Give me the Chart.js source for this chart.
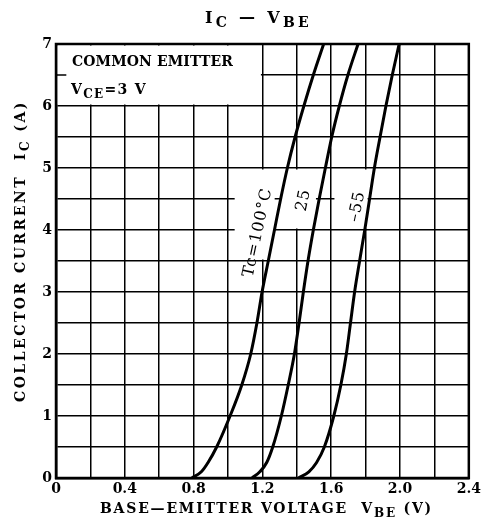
<!DOCTYPE html>
<html>
<head>
<meta charset="utf-8">
<script src="https://cdn.jsdelivr.net/npm/chart.js@4.4.1/dist/chart.umd.min.js"></script>
<style>
  html, body { margin: 0; padding: 0; background: #fff; }
  #chart { display: block; }
</style>
</head>
<body>
<canvas id="chart" width="484" height="527"></canvas>
<script>
// collector current (A), shared by the three curves
const currents = [0, 0.1, 0.25, 0.5, 1.0, 1.5, 2.0, 2.5, 3.0, 3.5, 4.0, 4.5, 5.0, 5.5, 6.0, 6.5, 7.0];
// base-emitter voltage (V) at each current, per case temperature
const vbe100 = [0.79, 0.845, 0.884, 0.934, 1.012, 1.08, 1.132, 1.168, 1.198, 1.234, 1.27, 1.306, 1.345, 1.39, 1.441, 1.496, 1.556];
const vbe25 = [1.14, 1.185, 1.225, 1.26, 1.31, 1.35, 1.386, 1.413, 1.438, 1.465, 1.496, 1.53, 1.566, 1.603, 1.647, 1.697, 1.756];
const vbeMinus55 = [1.41, 1.47, 1.515, 1.56, 1.615, 1.656, 1.688, 1.712, 1.736, 1.765, 1.795, 1.823, 1.851, 1.884, 1.918, 1.955, 1.995];

const curveLabels = ['Tc=100°C', '25', '–55'];
const xTickLabels = ['0', '0.4', '0.8', '1.2', '1.6', '2.0', '2.4'];
const yTickLabels = ['0', '1', '2', '3', '4', '5', '6', '7'];

const FONT = '"DejaVu Serif", "Liberation Serif", serif';

function toPoints(vs) {
    return vs.map((v, i) => ({ x: v, y: currents[i] }));
}

// text runs with subscripts, letter-spaced so the whole run is `width` px wide
function drawFit(ctx, parts, x, y, size, width, align, weight = 'bold') {
    const subSize = Math.round(size * 0.85);
    const fontFor = sub => `${weight} ${sub ? subSize : size}px ${FONT}`;
    ctx.letterSpacing = '0px';
    let raw = 0, chars = 0;
    for (const [t, sub] of parts) {
        ctx.font = fontFor(sub);
        raw += ctx.measureText(t).width;
        chars += [...t].length;
    }
    const sp = Math.max(0, (width - raw) / chars);
    ctx.letterSpacing = sp + 'px';
    let cx = align === 'left' ? x : x - width / 2;
    for (const [t, sub] of parts) {
        ctx.font = fontFor(sub);
        ctx.fillText(t, cx, sub ? y + 4 : y);
        cx += ctx.measureText(t).width;
    }
    ctx.letterSpacing = '0px';
}

const decorations = {
    id: 'decorations',
    beforeDatasetsDraw(chart) {
        const { ctx, scales: { x, y } } = chart;
        const blank = (x0, x1, y0, y1) => {
            const l = x.getPixelForValue(x0) + 1.5;
            const r = x.getPixelForValue(x1) - 1.5;
            const t = y.getPixelForValue(y1) + 1.5;
            const b = y.getPixelForValue(y0) - 1.5;
            ctx.fillRect(l, t, r - l, b - t);
        };
        ctx.save();
        ctx.fillStyle = '#fff';
        blank(0, 1.2, 6, 7);
        blank(1.03, 1.28, 3.5, 5);
        blank(1.3, 1.52, 4, 5);
        blank(1.61, 1.82, 4, 5);
        // small tick inside the legend box
        ctx.strokeStyle = '#000';
        ctx.lineWidth = 1.5;
        ctx.beginPath();
        ctx.moveTo(x.getPixelForValue(0), y.getPixelForValue(6.5));
        ctx.lineTo(x.getPixelForValue(0.06), y.getPixelForValue(6.5));
        ctx.stroke();
        ctx.restore();
    },
    afterDatasetsDraw(chart) {
        const { ctx, chartArea: a, scales: { x, y } } = chart;
        ctx.save();
        ctx.strokeStyle = '#000';
        ctx.lineWidth = 2.5;
        ctx.strokeRect(a.left, a.top, a.right - a.left, a.bottom - a.top);

        ctx.fillStyle = '#000';
        ctx.textBaseline = 'alphabetic';
        ctx.textAlign = 'left';
        drawFit(ctx, [['COMMON EMITTER', false]], 72, 66, 14, 161, 'left');
        drawFit(ctx, [['V', false], ['CE', true], ['=3 V', false]], 71, 94, 14, 76, 'left');

        // curve labels, turned along the curves
        const spots = [[1.174, 3.96], [1.44, 4.48], [1.752, 4.38]];
        ctx.font = `16px ${FONT}`;
        ctx.letterSpacing = '1px';
        ctx.textAlign = 'center';
        ctx.textBaseline = 'middle';
        curveLabels.forEach((lbl, i) => {
            ctx.save();
            ctx.translate(x.getPixelForValue(spots[i][0]), y.getPixelForValue(spots[i][1]));
            ctx.rotate(-78 * Math.PI / 180);
            ctx.fillText(lbl, 0, 0);
            ctx.restore();
        });
        ctx.restore();
    },
    afterDraw(chart) {
        const { ctx } = chart;
        ctx.save();
        ctx.fillStyle = '#000';
        ctx.textAlign = 'left';
        ctx.textBaseline = 'alphabetic';
        drawFit(ctx, [['I', false], ['C', true], [' — ', false], ['V', false], ['BE', true]], 205, 23, 16, 107, 'left', '600');
        drawFit(ctx, [['BASE—EMITTER VOLTAGE  V', false], ['BE', true], [' (V)', false]], 100, 513, 14, 333, 'left');
        ctx.translate(25, 251);
        ctx.rotate(-Math.PI / 2);
        drawFit(ctx, [['COLLECTOR CURRENT  I', false], ['C', true], [' (A)', false]], 0, 0, 14, 302, 'center');
        ctx.restore();
    },
};

const tickFont = { family: FONT, size: 14, weight: 'bold' };

new Chart(document.getElementById('chart'), {
    type: 'scatter',
    data: {
        datasets: [vbe100, vbe25, vbeMinus55].map(vs => ({
            data: toPoints(vs),
            showLine: true,
            borderColor: '#000',
            borderWidth: 3,
            pointRadius: 0,
            cubicInterpolationMode: 'monotone',
            fill: false,
        })),
    },
    options: {
        responsive: false,
        animation: false,
        layout: { padding: { top: 44, right: 13, left: 0, bottom: 0 } },
        plugins: { legend: { display: false }, tooltip: { enabled: false } },
        scales: {
            x: {
                type: 'linear',
                min: 0,
                max: 2.4,
                ticks: {
                    stepSize: 0.2,
                    autoSkip: false,
                    maxRotation: 0,
                    padding: 3,
                    color: '#000',
                    font: tickFont,
                    callback: v => {
                        const k = Math.round(v * 10);
                        return k % 4 === 0 ? xTickLabels[k / 4] : '';
                    },
                },
                grid: { color: '#000', lineWidth: 1.5, drawTicks: false },
                border: { display: true, color: '#000', width: 2.5 },
                afterFit: s => { s.height = 49; },
            },
            y: {
                type: 'linear',
                min: 0,
                max: 7,
                ticks: {
                    stepSize: 0.5,
                    autoSkip: false,
                    padding: 4,
                    color: '#000',
                    font: tickFont,
                    callback: v => {
                        const k = Math.round(v * 2);
                        return k % 2 === 0 ? yTickLabels[k / 2] : '';
                    },
                },
                grid: { color: '#000', lineWidth: 1.5, drawTicks: false },
                border: { display: true, color: '#000', width: 2.5 },
                afterFit: s => { s.width = 56; },
            },
        },
    },
    plugins: [decorations],
});
</script>
</body>
</html>
